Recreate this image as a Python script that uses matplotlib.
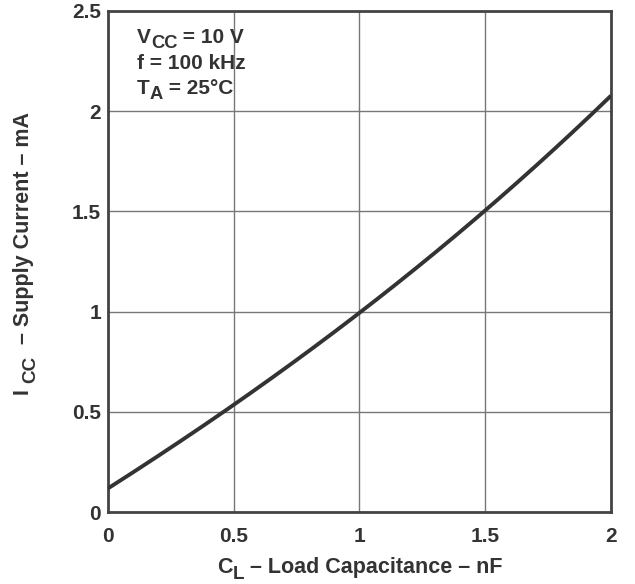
import matplotlib
matplotlib.use("Agg")
import matplotlib.pyplot as plt
import numpy as np

cap_nf = [0.0, 0.25, 0.5, 0.75, 1.0, 1.25, 1.5, 1.75, 2.0]
icc_ma = [0.12, 0.32, 0.53, 0.76, 1.0, 1.245, 1.5, 1.78, 2.08]
xticks = [0, 0.5, 1, 1.5, 2]
xticklabels = ["0", "0.5", "1", "1.5", "2"]
yticks = [0, 0.5, 1, 1.5, 2, 2.5]
yticklabels = ["0", "0.5", "1", "1.5", "2", "2.5"]

plt.rcParams['font.family'] = ['Liberation Sans', 'DejaVu Sans']
plt.rcParams['font.weight'] = 'bold'

W, H = 635, 584
TXT = '#333333'
fig = plt.figure(figsize=(W / 100, H / 100), dpi=100)
ax = fig.add_axes([108 / W, 1 - 512 / H, (611 - 108) / W, (512 - 11) / H])

xs = np.linspace(0, 2, 200)
coef = np.polyfit(cap_nf, icc_ma, 3)
ax.plot(xs, np.polyval(coef, xs), color='#333333', lw=2.8, solid_capstyle='butt', zorder=3)

ax.set_xlim(0, 2)
ax.set_ylim(0, 2.5)
ax.set_xticks(xticks)
ax.set_xticklabels(xticklabels)
ax.set_yticks(yticks)
ax.set_yticklabels(yticklabels)
ax.tick_params(length=0, labelsize=15, colors=TXT)
ax.tick_params(axis='x', pad=11)
ax.tick_params(axis='y', pad=5)
ax.grid(True, color='#777777', lw=1.0)
for s in ax.spines.values():
    s.set_color('#444444')
    s.set_linewidth(2.0)


def chain(parts, px, py, fs, rot=False, shift=3.6, subscale=0.88):
    """Draw text pieces one after another; parts = [(string, is_subscript), ...]."""
    first, fsub = parts[0]
    if rot:
        prev = fig.text(px / W, 1 - py / H, first, fontsize=fs, fontweight='bold', color=TXT,
                        rotation=90, rotation_mode='anchor', ha='left', va='baseline')
    else:
        prev = fig.text(px / W, 1 - py / H, first, fontsize=fs, fontweight='bold', color=TXT,
                        ha='left', va='baseline')
    prev_sub = fsub
    for s, sub in parts[1:]:
        d = 0.0
        if sub and not prev_sub:
            d = shift
        elif prev_sub and not sub:
            d = -shift
        size = fs * subscale if sub else fs
        if rot:
            prev = ax.annotate(s, xy=(1, 1), xycoords=prev, xytext=(d, 0), textcoords='offset points',
                               fontsize=size, fontweight='bold', color=TXT, rotation=90,
                               ha='right', va='bottom', annotation_clip=False)
        else:
            prev = ax.annotate(s, xy=(1, 0), xycoords=prev, xytext=(0, -d), textcoords='offset points',
                               fontsize=size, fontweight='bold', color=TXT,
                               ha='left', va='bottom', annotation_clip=False)
        prev_sub = sub


# axis labels
chain([("C", False), ("L", True), (" – Load Capacitance – nF", False)], 217, 573, 15.5)
chain([("I ", False), ("CC", True), ("  – Supply Current – mA", False)], 29, 395, 15.5, rot=True)

# condition annotations
chain([("V", False), ("CC", True), (" = 10 V", False)], 137, 43, 15)
chain([("f = 100 kHz", False)], 137, 69, 15)
chain([("T", False), ("A", True), (" = 25°C", False)], 137, 94, 15)

fig.savefig("out.png", dpi=100)
